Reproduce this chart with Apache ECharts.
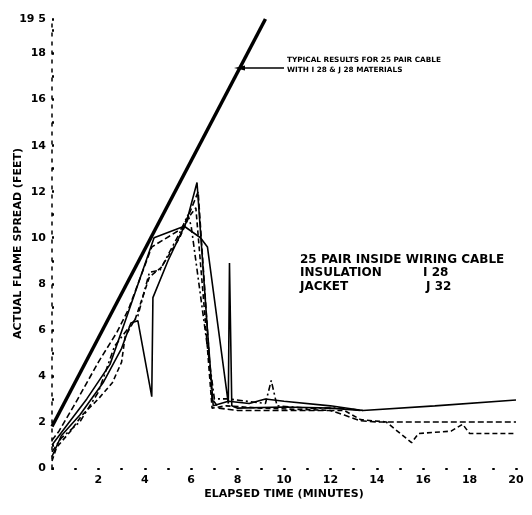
<!DOCTYPE html>
<html><head><meta charset="utf-8">
<script src="https://cdn.jsdelivr.net/npm/echarts@6/dist/echarts.min.js"></script>
<style>html,body{margin:0;padding:0;background:#fff}#c{width:532px;height:515px}</style>
</head><body><div id="c"></div>
<script>
// Typical results for 25 pair cable with I 28 & J 28 materials
const typicalLine = [[0,1.8],[9.2,19.5]];
// 25 pair inside wiring cable, insulation I 28, jacket J 32 (several runs)
const runSolidA = [[0,0.5],[0.4,1.4],[1.2,2.3],[2.2,3.7],[3.0,5.2],[3.4,6.3],[3.7,6.4],[4.3,3.1],[4.35,7.4],[5.0,9.0],[5.8,10.7],[6.25,12.4],[6.7,6.0],[6.95,2.7],[7.6,2.9],[8.5,2.8],[9.2,3.0],[10,2.9],[12,2.7],[13.4,2.5],[16.5,2.7],[20,2.95]];
const runSolidB = [[0,1.0],[0.6,1.8],[1.5,3.0],[2.5,4.5],[3.3,6.8],[4.4,10.0],[5.7,10.5],[6.4,10.0],[6.7,9.6],[7.6,2.8],[7.65,8.9],[7.75,2.7],[8,2.6],[10,2.65],[12,2.6],[13.3,2.5]];
const runDashedA = [[0,1.2],[0.3,1.6],[1.0,2.8],[2.0,4.6],[2.8,5.9],[3.3,6.9],[4.3,9.6],[5.6,10.4],[5.9,11.0],[6.3,12.0],[6.9,3.0],[7.2,2.6],[8,2.5],[10,2.5],[12,2.5],[12.6,2.3],[13.3,2.05],[14,2.0],[20,2.0]];
const runDashedB = [[0,0.3],[0.2,0.9],[0.8,1.6],[1.3,2.3],[2.0,3.0],[2.6,3.7],[3.0,4.6],[3.15,5.7],[3.6,6.5],[4.2,8.3],[4.7,8.7],[5.5,10.0],[5.9,10.9],[6.2,11.3],[6.6,6.5],[6.9,2.6],[7.5,2.7],[9,2.6],[10.5,2.55],[12,2.5],[12.6,2.5],[13.3,2.1],[14.4,2.0],[15.5,1.1],[15.8,1.5],[17.2,1.6],[17.7,1.9],[18,1.5],[20,1.5]];
const runDashDot = [[0,0.7],[0.4,1.3],[1.2,2.0],[2.0,3.3],[2.7,5.3],[3.7,6.6],[4.2,8.5],[4.66,8.6],[5.5,10.2],[5.86,11.0],[6.0,10.5],[7.0,3.0],[7.6,3.0],[9.2,2.8],[9.45,3.8],[9.7,2.7],[11,2.6],[12.5,2.6],[13.4,2.5]];

const xTickValues = [2,4,6,8,10,12,14,16,18,20];
const xTickLabels = ['2','4','6','8','10','12','14','16','18','20'];
const yTickValues = [0,2,4,6,8,10,12,14,16,18,19.5];
const yTickLabels = ['0','2','4','6','8','10','12','14','16','18','19 5'];

const FONT = "'DejaVu Sans', 'Liberation Sans', sans-serif";
function lbl(values, labels){
  return v => { const i = values.findIndex(t => Math.abs(t - v) < 1e-6); return i >= 0 ? labels[i] : ''; };
}
function thin(name, data, type, w){
  return {name, type:'line', data, showSymbol:false, silent:true,
    lineStyle:{color:'#000', width:w||1.6, type:type||'solid'}};
}
const chart = echarts.init(document.getElementById('c'), null, {renderer:'canvas'});
chart.setOption({
  animation:false,
  backgroundColor:'#fff',
  grid:{left:52, top:19, width:464, height:449, containLabel:false, outerBoundsMode:'none'},
  xAxis:{type:'value', min:0, max:20, interval:1,
    name:'ELAPSED TIME (MINUTES)', nameLocation:'middle', nameGap:21, nameMoveOverlap:false,
    nameTextStyle:{fontFamily:FONT, fontWeight:'bold', fontSize:11, color:'#000'},
    axisLine:{show:false},
    axisTick:{show:true, length:2, lineStyle:{color:'#000', width:2.5}},
    axisLabel:{formatter:lbl(xTickValues,xTickLabels), margin:7, fontFamily:FONT, fontWeight:'bold', fontSize:11, color:'#000'},
    splitLine:{show:false}},
  yAxis:{type:'value', min:0, max:19.5, interval:1,
    name:'ACTUAL FLAME SPREAD (FEET)', nameLocation:'middle', nameGap:28, nameMoveOverlap:false,
    nameTextStyle:{fontFamily:FONT, fontWeight:'bold', fontSize:11, color:'#000'},
    axisLine:{show:true, lineStyle:{color:'#000', width:1.5, type:[3,6]}},
    axisTick:{show:true, inside:true, length:2, lineStyle:{color:'#000', width:2.5}},
    axisLabel:{formatter:lbl(yTickValues,yTickLabels), showMaxLabel:true, margin:6, fontFamily:FONT, fontWeight:'bold', fontSize:11, color:'#000'},
    splitLine:{show:false}},
  series:[
    thin('typical', typicalLine, 'solid', 3.5),
    thin('runSolidA', runSolidA, 'solid', 1.6),
    thin('runSolidB', runSolidB, 'solid', 1.6),
    thin('runDashedA', runDashedA, [6,3], 1.6),
    thin('runDashedB', runDashedB, [5,3], 1.6),
    thin('runDashDot', runDashDot, [6,3,2,3], 1.6)
  ],
  graphic:[
    {type:'polygon', shape:{points:[[234,68],[245,65.5],[245,70.5]]}, style:{fill:'#000'}},
    {type:'line', shape:{x1:243,y1:68,x2:284,y2:68}, style:{stroke:'#000', lineWidth:1.6}},
    {type:'text', left:287, top:57, style:{text:'TYPICAL RESULTS FOR 25 PAIR CABLE', font:"bold 7.3px "+FONT, fill:'#000'}},
    {type:'text', left:287, top:67, style:{text:'WITH I 28 & J 28 MATERIALS', font:"bold 7.3px "+FONT, fill:'#000'}},
    {type:'text', left:300, top:254, style:{text:'25 PAIR INSIDE WIRING CABLE', font:"bold 12px "+FONT, fill:'#000'}},
    {type:'text', left:300, top:267, style:{text:'INSULATION', font:"bold 12px "+FONT, fill:'#000'}},
    {type:'text', left:423, top:267, style:{text:'I 28', font:"bold 12px "+FONT, fill:'#000'}},
    {type:'text', left:300, top:281, style:{text:'JACKET', font:"bold 12px "+FONT, fill:'#000'}},
    {type:'text', left:426, top:281, style:{text:'J 32', font:"bold 12px "+FONT, fill:'#000'}}
  ]
});
</script></body></html>
